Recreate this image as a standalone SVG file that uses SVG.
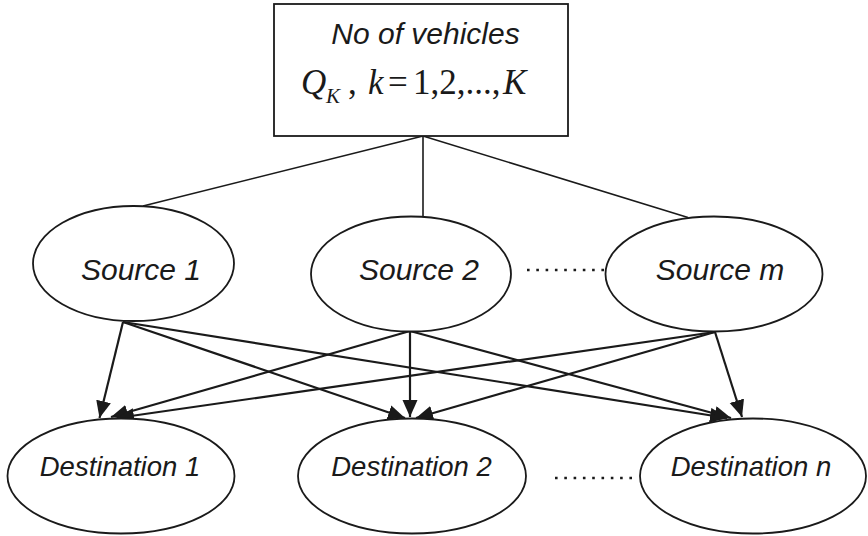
<svg xmlns="http://www.w3.org/2000/svg" width="868" height="536" viewBox="0 0 868 536">
  <style>
    .node { fill: #ffffff; stroke: #1a1a1a; stroke-width: 1.8; }
    .lbl { font-family: "Liberation Sans", Arial, sans-serif; font-style: italic; fill: #1a1a1a; text-anchor: middle; }
    .src { font-size: 30px; }
    .dst { font-size: 27.5px; }
    .math { font-family: "Liberation Serif", "Times New Roman", serif; fill: #1a1a1a; }
    .tree { stroke: #1a1a1a; stroke-width: 1.6; fill: none; }
    .arrow { stroke: #1a1a1a; stroke-width: 2.2; fill: none; marker-end: url(#ah); }
    .dots { stroke: #1a1a1a; stroke-width: 2.4; stroke-dasharray: 2.6 6.7; fill: none; }
  </style>
  <defs>
    <marker id="ah" markerUnits="userSpaceOnUse" markerWidth="18" markerHeight="16" refX="17" refY="7.5" orient="auto">
      <path d="M0,0 L17,7.5 L0,15 z" fill="#1a1a1a"/>
    </marker>
  </defs>
  <rect width="868" height="536" fill="#ffffff"/>

  <g id="connectors">
    <line class="tree" x1="423" y1="136" x2="143" y2="206"/>
    <line class="tree" x1="423" y1="136" x2="423" y2="216.5"/>
    <line class="tree" x1="423" y1="136" x2="688" y2="217.5"/>

    <line class="arrow" x1="123" y1="322" x2="99.5" y2="418"/>
    <line class="arrow" x1="123" y1="322" x2="405" y2="418"/>
    <line class="arrow" x1="123" y1="322" x2="727" y2="418"/>
    <line class="arrow" x1="410" y1="331" x2="111" y2="417"/>
    <line class="arrow" x1="410" y1="331" x2="410" y2="417"/>
    <line class="arrow" x1="410" y1="331" x2="731" y2="418"/>
    <line class="arrow" x1="715" y1="332" x2="117" y2="418"/>
    <line class="arrow" x1="715" y1="332" x2="416" y2="418"/>
    <line class="arrow" x1="715" y1="332" x2="742" y2="417"/>

    <line class="dots" x1="527" y1="270" x2="606" y2="270"/>
    <line class="dots" x1="555" y1="478" x2="636" y2="478"/>
  </g>

  <g id="vehicles">
    <rect class="node" x="274" y="4" width="294" height="132"/>
    <text class="lbl" x="425.5" y="44" font-size="30">No of vehicles</text>
    <text class="math" font-size="35" y="94"><tspan x="301" font-style="italic">Q</tspan><tspan x="326" y="103" font-size="21" font-style="italic">K</tspan><tspan x="348" y="94">,</tspan><tspan x="368" font-style="italic">k</tspan><tspan x="388">=</tspan><tspan x="413">1,2,...,</tspan><tspan x="503" font-style="italic">K</tspan></text>
  </g>

  <g id="source1">
    <ellipse class="node" cx="133.5" cy="263.5" rx="100.5" ry="57.5"/>
    <text class="lbl src" x="141" y="280">Source 1</text>
  </g>
  <g id="source2">
    <ellipse class="node" cx="411" cy="274" rx="100" ry="57.5"/>
    <text class="lbl src" x="419" y="280">Source 2</text>
  </g>
  <g id="sourcem">
    <ellipse class="node" cx="714" cy="274" rx="108.5" ry="57.5"/>
    <text class="lbl src" x="720" y="280">Source m</text>
  </g>

  <g id="destination1">
    <ellipse class="node" cx="121" cy="476" rx="113.5" ry="57.5"/>
    <text class="lbl dst" x="120" y="476">Destination 1</text>
  </g>
  <g id="destination2">
    <ellipse class="node" cx="412" cy="476" rx="114" ry="57.5"/>
    <text class="lbl dst" x="411.5" y="476">Destination 2</text>
  </g>
  <g id="destinationn">
    <ellipse class="node" cx="753" cy="476" rx="113" ry="57.5"/>
    <text class="lbl dst" x="751" y="476">Destination n</text>
  </g>
</svg>
